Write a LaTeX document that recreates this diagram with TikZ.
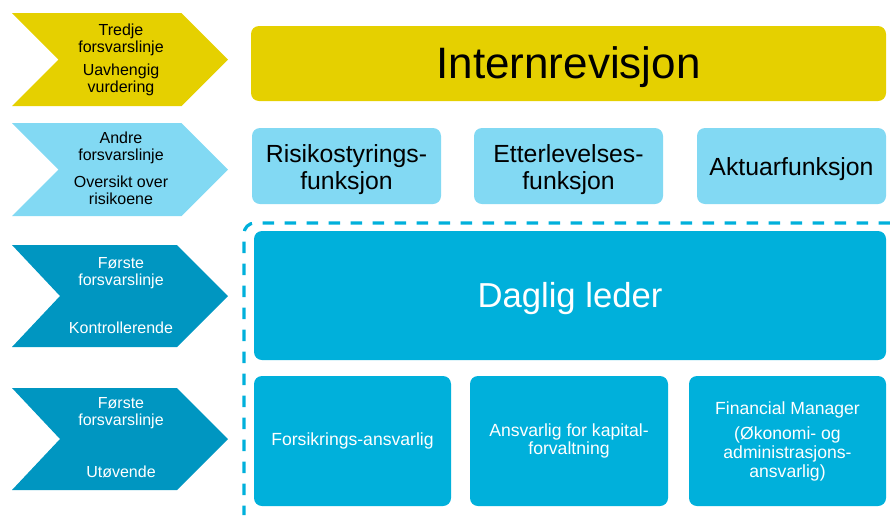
\documentclass[tikz,border=0pt]{standalone}
\usepackage{fontspec}
\setmainfont{Liberation Sans}
\definecolor{linjegul}{RGB}{229,208,0}
\definecolor{linjelys}{RGB}{130,217,243}
\definecolor{linjemork}{RGB}{0,150,193}
\definecolor{linjeblaa}{RGB}{0,176,219}
\tikzset{every picture/.style={line width=0.75pt}}
\tikzset{
  boks/.style={rounded corners=6pt, inner sep=0pt, align=center},
  boksTekst/.style={align=center, yshift=-2.5pt, inner sep=0pt},
  pilt/.style={align=center, font=\fontsize{12}{12.75}\selectfont},
}
\begin{document}
\begin{tikzpicture}[x=0.75pt,y=0.75pt,yscale=-1,xscale=1]
\useasboundingbox (0,0) rectangle (890,515);

%Shape: Chevron [id:tredje]
\fill [linjegul] (12,13) -- (181.5,13) -- (228,59.5) -- (181.5,106) -- (12,106) -- (58.5,59.5) -- cycle ;
%Shape: Chevron [id:andre]
\fill [linjelys] (12,123) -- (181.5,123) -- (228,169.5) -- (181.5,216) -- (12,216) -- (58.5,169.5) -- cycle ;
%Shape: Chevron [id:forste1]
\fill [linjemork] (12,245) -- (177,245) -- (228,296) -- (177,347) -- (12,347) -- (60,296) -- cycle ;
%Shape: Chevron [id:forste2]
\fill [linjemork] (12,388) -- (177,388) -- (228,439) -- (177,490) -- (12,490) -- (60,439) -- cycle ;

%Shape: Dashed frame
\draw [linjeblaa, line width=2.4pt, dash pattern={on 8.5pt off 8pt}, rounded corners=8pt] (890,223) -- (244,223) -- (244,515) ;

% Boxes
\node [boks, fill=linjegul, minimum width=476.25pt, minimum height=56.25pt, label={[boksTekst, font=\fontsize{33}{36}\selectfont]center:Internrevisjon}] (intern) at (568.5,63.5) {};

\node [boks, fill=linjelys, minimum width=141.75pt, minimum height=57pt, label={[boksTekst, font=\fontsize{18.6}{20.25}\selectfont]center:Risikostyrings-\\funksjon}] (risiko) at (346.5,166) {};
\node [boks, fill=linjelys, minimum width=141.75pt, minimum height=57pt, label={[boksTekst, font=\fontsize{18.6}{20.25}\selectfont]center:Etterlevelses-\\funksjon}] (etter) at (568.5,166) {};
\node [boks, fill=linjelys, minimum width=141.75pt, minimum height=57pt, label={[boksTekst, font=\fontsize{18.6}{20.25}\selectfont]center:Aktuarfunksjon}] (aktuar) at (791.5,166) {};

\node [boks, fill=linjeblaa, minimum width=474pt, minimum height=96.75pt, label={[boksTekst, text=white, font=\fontsize{26}{30}\selectfont]center:Daglig leder}] (daglig) at (570,295.5) {};

\node [boks, fill=linjeblaa, text=white, minimum width=147.75pt, minimum height=97.5pt, font=\fontsize{13.2}{13.9}\selectfont] (forsikring) at (352.5,441) {Forsikrings-ansvarlig};
\node [boks, fill=linjeblaa, text=white, minimum width=148.5pt, minimum height=97.5pt, font=\fontsize{13.2}{13.9}\selectfont] (kapital) at (569,441) {Ansvarlig for kapital-\\forvaltning};
\node [boks, fill=linjeblaa, text=white, minimum width=147.75pt, minimum height=97.5pt, font=\fontsize{13.2}{13.9}\selectfont] (financial) at (787.5,441) {Financial Manager\\[5.5pt](Økonomi- og\\administrasjons-\\ansvarlig)};

% Text Node
\node [pilt] (tredjeA) at (121,40) {Tredje\\forsvarslinje};
\node [pilt] (tredjeB) at (121,79.5) {Uavhengig\\vurdering};
\node [pilt] (andreA) at (121,147.5) {Andre\\forsvarslinje};
\node [pilt] (andreB) at (121,190) {Oversikt over\\risikoene};
\node [pilt, text=white] (forsteA) at (121,273.5) {Første\\forsvarslinje};
\node [pilt, text=white] (forsteB) at (121,328) {Kontrollerende};
\node [pilt, text=white] (utA) at (121,413) {Første\\forsvarslinje};
\node [pilt, text=white] (utB) at (121,472) {Utøvende};
\end{tikzpicture}
\end{document}
